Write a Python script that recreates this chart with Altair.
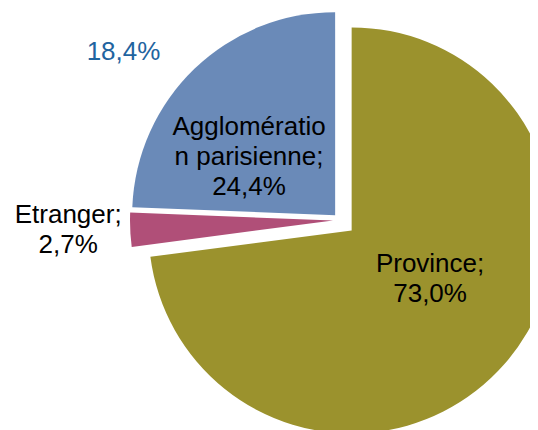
import altair as alt
import pandas as pd

# ---- data ----
categories = ["Province", "Etranger", "Agglomération parisienne"]
values = [73.0, 2.7, 24.4]
label_lines = ["Province;\n73,0%", "Etranger;\n2,7%", "Agglomératio\nn parisienne;\n24,4%"]
extra_label = ["18,4%"]

# ---- styles ----
colors = ["#9b922d", "#b04f78", "#6a8ab8"]
explode = [15.5, 7, 7]          # px each slice is pulled out
label_radius = [107.6, 272, 110.7]
label_shift = [-8.1, 0.5, -11.4]  # degrees
CX, CY, R = 332, 212.2, 203
LH = 30

df = pd.DataFrame({
    "cat": categories,
    "value": values,
    "label": label_lines,
    "order": list(range(len(categories))),
    "explode": explode,
    "lr": label_radius,
    "lshift": label_shift,
})

base = (
    alt.Chart(df)
    .transform_joinaggregate(total="sum(value)")
    .transform_window(cum="sum(value)", sort=[alt.SortField("order")], frame=[None, 0])
    .transform_calculate(
        start="2*PI*(datum.cum - datum.value)/datum.total",
        end="2*PI*datum.cum/datum.total",
    )
    .transform_calculate(mid="(datum.start + datum.end)/2")
    .transform_calculate(nl="length(split(datum.label, '\\n'))")
    .transform_calculate(
        px=f"{CX} + datum.explode*sin(datum.mid)",
        py=f"{CY} - datum.explode*cos(datum.mid)",
        lx=f"{CX} + datum.lr*sin(datum.mid + datum.lshift*PI/180)",
        ly=f"{CY} - datum.lr*cos(datum.mid + datum.lshift*PI/180) - (datum.nl - 1)*{LH}/2",
    )
)

arcs = base.mark_arc(outerRadius=R).encode(
    theta=alt.Theta("start:Q", scale=None),
    theta2="end:Q",
    x=alt.X("px:Q", scale=None, axis=None),
    y=alt.Y("py:Q", scale=None, axis=None),
    color=alt.Color("cat:N", scale=alt.Scale(domain=categories, range=colors), legend=None),
)

labels = base.mark_text(
    font="Liberation Sans", fontSize=26, lineHeight=LH, lineBreak="\n",
    align="center", baseline="middle", color="black",
).encode(
    x=alt.X("lx:Q", scale=None, axis=None),
    y=alt.Y("ly:Q", scale=None, axis=None),
    text="label:N",
)

stray = alt.Chart(pd.DataFrame({"t": extra_label})).mark_text(
    font="Liberation Sans", fontSize=26, align="center", baseline="alphabetic",
    color="#1f64a0",
).encode(x=alt.value(115.5), y=alt.value(52), text="t:N")

chart = (
    alt.layer(arcs, labels, stray)
    .properties(width=522, height=422, padding=0, autosize="none")
    .configure_view(stroke=None)
)

chart.save("out.html", embed_options={"renderer": "svg", "actions": False})
